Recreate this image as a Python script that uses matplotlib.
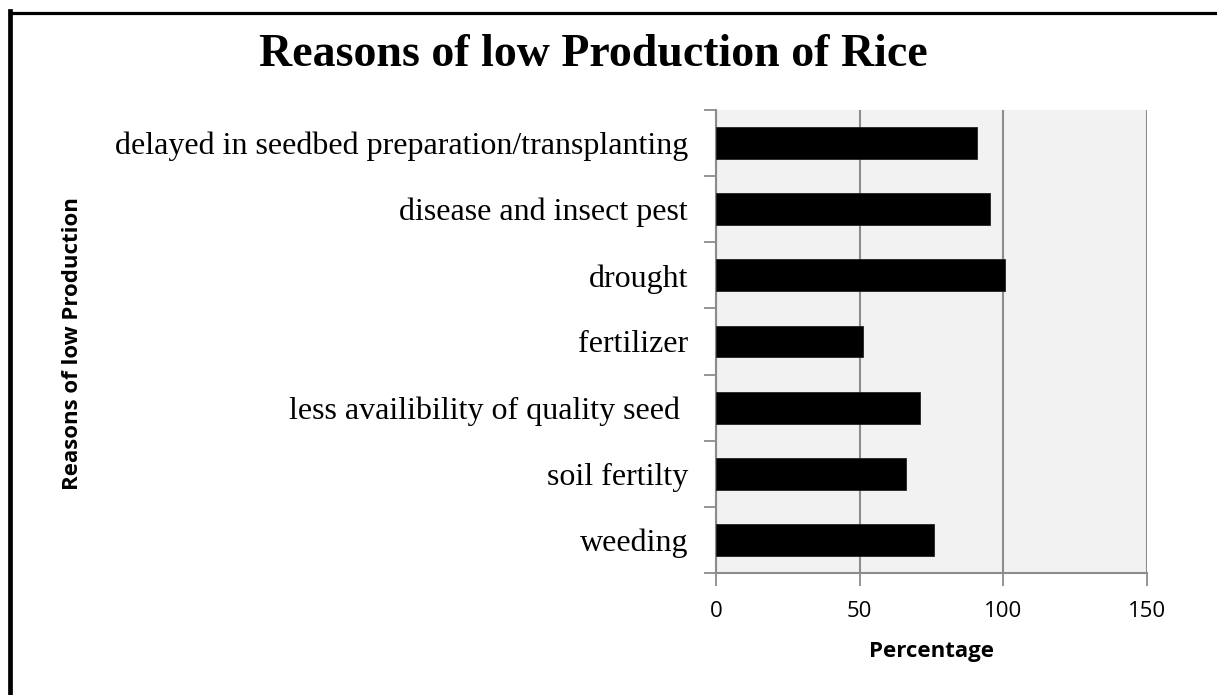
import matplotlib
matplotlib.use("Agg")
import matplotlib.pyplot as plt
from matplotlib.lines import Line2D
import numpy as np

categories = [
    "delayed in seedbed preparation/transplanting",
    "disease and insect pest",
    "drought",
    "fertilizer",
    "less availibility of quality seed ",
    "soil fertilty",
    "weeding",
]
percentages = [91, 95.5, 100.5, 51, 71, 66, 76]
x_ticks = [0, 50, 100, 150]

W, H = 1217, 695
fig = plt.figure(figsize=(W / 100, H / 100), dpi=100)
fig.patch.set_facecolor("white")

# axes box in pixels: left 716, right 1147, top 110, bottom 573
left, right, top, bottom = 716, 1147, 110, 573
ax = fig.add_axes([left / W, 1 - bottom / H, (right - left) / W, (bottom - top) / H])
ax.set_facecolor("#f2f2f2")

n = len(categories)
ypos = np.arange(n)[::-1]
ax.barh(ypos, percentages, height=0.48, color="black", edgecolor="#222222",
        linewidth=0.6, zorder=3)

ax.set_xlim(0, 150)
ax.set_ylim(-0.5, n - 0.5)
ax.set_xticks(x_ticks)
ax.set_xticklabels([str(t) for t in x_ticks], fontfamily="Open Sans", fontsize=16)
ax.xaxis.grid(True, color="#8c8c8c", linewidth=1.5, zorder=1)
ax.set_axisbelow(True)

# category boundaries carry the ticks, centres carry the labels
ax.set_yticks(np.arange(-0.5, n, 1.0))
ax.set_yticklabels([])
ax.set_yticks(ypos, minor=True)
ax.set_yticklabels(categories, minor=True, fontfamily="Liberation Serif", fontsize=23)
ax.tick_params(axis="y", which="minor", length=0, pad=20)
ax.tick_params(axis="y", which="major", length=9, width=1.3, color="#8c8c8c", direction="out")
ax.tick_params(axis="x", which="major", length=9, width=1.3, color="#8c8c8c",
               direction="out", pad=11)

for s in ["top", "right"]:
    ax.spines[s].set_visible(False)
for s in ["left", "bottom"]:
    ax.spines[s].set_color("#8c8c8c")
    ax.spines[s].set_linewidth(1.5)

ax.set_xlabel("Percentage", fontfamily="Open Sans", fontweight="bold", fontsize=16,
              labelpad=14)

fig.text(73 / W, 1 - 344 / H, "Reasons of low Production", rotation=90,
         ha="center", va="center", fontfamily="Open Sans", fontweight="bold",
         fontsize=16)

fig.text(593 / W, 1 - 55 / H, "Reasons of low Production of Rice",
         ha="center", va="center", fontfamily="Liberation Serif",
         fontweight="bold", fontsize=33)

# frame around the figure (left and top edges)
fig.add_artist(Line2D([10.3 / W, 10.3 / W], [0, 1 - 10.5 / H], transform=fig.transFigure,
                      color="black", linewidth=3.4, solid_capstyle="projecting"))
fig.add_artist(Line2D([10.3 / W, 1], [1 - 12.5 / H, 1 - 12.5 / H], transform=fig.transFigure,
                      color="black", linewidth=2.3))

fig.savefig("out.png", dpi=100)
